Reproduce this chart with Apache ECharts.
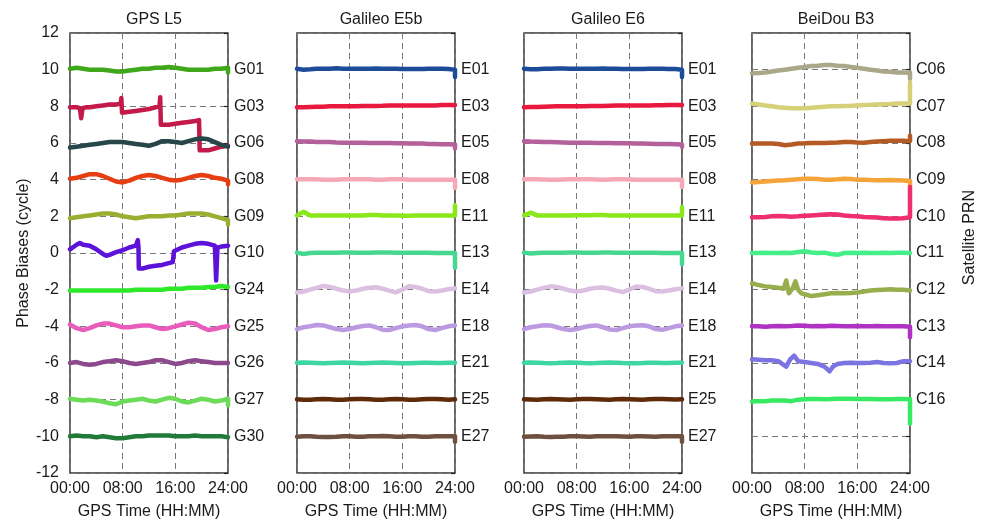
<!DOCTYPE html>
<html>
<head>
<meta charset="utf-8">
<script src="https://cdn.jsdelivr.net/npm/echarts@6/dist/echarts.min.js"></script>
<style>
  html, body { margin: 0; padding: 0; background: #fff; }
  #chart { width: 988px; height: 526px; }
</style>
</head>
<body>
<div id="chart"></div>
<script>
// Hourly epochs (GPS time, hours of day)
const HOURS = [0,1,2,3,4,5,6,7,8,9,10,11,12,13,14,15,16,17,18,19,20,21,22,23,24];
const X_TICKS = ['00:00', '08:00', '16:00', '24:00'];
const LEVELS = [10, 8, 6, 4, 2, 0, -2, -4, -6, -8, -10];

const PANEL_TITLES = ['GPS L5', 'Galileo E5b', 'Galileo E6', 'BeiDou B3'];

// ---------- GPS L5 ----------
const GPS_PRN = ['G01','G03','G06','G08','G09','G10','G24','G25','G26','G27','G30'];
const GPS_COLORS = ['#3fa81a','#c41a4a','#27464a','#e63e10','#9cae32','#5c12d8','#2ee82a','#ea5cbc','#8c4a8c','#6cdc58','#227a38'];
const G01 = [10.05,10.1,10.05,10.0,10.0,10.0,9.95,9.9,9.9,9.95,10.0,10.05,10.05,10.1,10.1,10.15,10.1,10.05,10.0,10.0,10.0,10.0,10.05,10.05,10.1];
const G03 = [[0,7.95],[1,7.95],[1.5,7.9],[1.7,7.35],[1.9,7.9],[2.5,7.95],[3,7.95],[4,8.0],[5,8.05],[6,8.1],[7,8.1],[7.7,8.15],[7.8,8.45],[7.9,7.65],[9,7.7],[10,7.75],[11,7.8],[12,7.85],[13,7.95],[13.6,8.0],[13.7,8.5],[13.8,7.0],[14,6.95],[15,7.0],[16,7.05],[17,7.1],[18,7.15],[19,7.2],[19.6,7.25],[19.7,5.6],[20,5.55],[21,5.6],[22,5.7],[23,5.8],[24,5.85]];
const G06 = [5.75,5.8,5.85,5.9,5.95,6.0,6.05,6.05,6.05,6.0,5.95,5.9,5.85,5.95,6.1,6.1,6.05,6.0,6.1,6.2,6.25,6.2,6.05,5.9,5.8];
const G08 = [4.05,4.1,4.2,4.3,4.3,4.2,4.05,3.9,3.85,3.95,4.1,4.2,4.25,4.2,4.1,4.0,3.95,4.0,4.1,4.2,4.25,4.2,4.1,4.05,3.95];
const G09 = [1.9,1.95,2.0,2.05,2.1,2.15,2.15,2.1,2.0,1.95,1.9,1.95,2.0,2.0,2.0,2.05,2.05,2.1,2.15,2.15,2.15,2.1,2.0,1.9,1.8];
const G10 = [[0,0.2],[1,0.45],[1.5,0.55],[2,0.45],[3,0.4],[4,0.2],[5,-0.05],[5.5,-0.15],[6,-0.1],[7,0.05],[8,0.15],[9,0.3],[10,0.4],[10.3,0.7],[10.4,0.3],[10.45,-0.85],[11,-0.85],[12,-0.75],[13,-0.7],[14,-0.65],[15,-0.55],[15.6,-0.5],[15.8,0.1],[16,0.15],[17,0.3],[18,0.4],[19,0.5],[20,0.55],[21,0.5],[22,0.4],[22.2,-1.5],[22.4,0.3],[23,0.35],[24,0.4]];
const G24 = [-2.05,-2.05,-2.05,-2.05,-2.05,-2.05,-2.05,-2.05,-2.05,-2.05,-2.0,-2.0,-2.0,-2.0,-2.0,-1.95,-1.95,-1.95,-1.9,-1.9,-1.9,-1.85,-1.85,-1.8,-1.85];
const G25 = [-3.9,-4.1,-4.2,-4.1,-3.95,-3.85,-3.85,-3.95,-4.05,-4.05,-4.0,-3.95,-3.95,-4.05,-4.15,-4.1,-4.0,-3.9,-3.8,-3.85,-4.05,-4.2,-4.15,-4.05,-4.0];
const G26 = [-6.0,-5.95,-6.05,-6.1,-6.05,-5.95,-5.9,-5.85,-5.9,-6.0,-6.05,-6.0,-5.95,-5.85,-5.85,-5.95,-6.05,-6.0,-5.9,-5.85,-5.9,-5.95,-6.0,-6.0,-6.0];
const G27 = [-7.95,-8.0,-8.05,-8.0,-8.05,-8.1,-8.2,-8.25,-8.1,-8.05,-8.0,-7.95,-8.05,-8.1,-8.0,-7.9,-7.95,-8.1,-8.15,-8.05,-7.95,-8.0,-8.1,-8.05,-7.95];
const G30 = [-10.0,-9.95,-10.0,-10.0,-10.05,-10.0,-10.05,-10.1,-10.1,-10.05,-10.0,-10.0,-9.95,-9.95,-9.95,-9.95,-10.0,-10.0,-10.0,-9.95,-10.0,-10.0,-10.0,-10.0,-10.05];
const GPS_SERIES = [G01,G03,G06,G08,G09,G10,G24,G25,G26,G27,G30];
const GPS_LAST = [9.85,null,null,3.75,1.55,null,null,null,null,-8.3,null];

// ---------- Galileo E5b ----------
const GAL_PRN = ['E01','E03','E05','E08','E11','E13','E14','E18','E21','E25','E27'];
const GAL_COLORS = ['#1c4c98','#e8183e','#b4609a','#f6a8b6','#8ae81a','#46d890','#dcc0e2','#bc9ae2','#3ed6a2','#5e2a08','#6e5040'];
const E01_B = [10.05,10.0,10.02,10.05,10.05,10.05,10.08,10.05,10.05,10.05,10.05,10.05,10.07,10.05,10.05,10.05,10.03,10.03,10.03,10.03,10.05,10.05,10.05,10.03,10.0];
const E03_B = [7.95,7.95,7.97,7.98,7.98,8.0,8.0,8.0,8.0,8.0,8.02,8.02,8.02,8.03,8.05,8.05,8.05,8.05,8.05,8.05,8.05,8.05,8.07,8.07,8.07];
const E05_B = [6.1,6.08,6.08,6.05,6.05,6.05,6.03,6.02,6.02,6.02,6.02,6.0,6.0,6.0,6.0,5.98,5.98,5.97,5.97,5.97,5.95,5.95,5.93,5.93,5.92];
const E08_B = [4.02,4.02,4.02,4.02,4.0,4.0,4.0,4.02,4.02,4.02,4.02,4.02,4.0,4.0,4.02,4.02,4.02,4.0,4.0,4.0,4.0,4.0,4.0,4.0,4.0];
const E11_B = [2.05,2.25,2.05,2.05,2.05,2.05,2.05,2.05,2.05,2.05,2.05,2.07,2.07,2.05,2.05,2.05,2.03,2.03,2.05,2.05,2.05,2.05,2.05,2.05,2.05];
const E13_B = [0.02,-0.05,0.0,0.02,0.02,0.02,0.02,0.03,0.03,0.02,0.02,0.02,0.03,0.03,0.03,0.02,0.02,0.02,0.02,0.02,0.02,0.0,0.0,0.0,0.0];
const E14_B = [-2.15,-2.1,-2.0,-1.9,-1.8,-1.85,-1.95,-2.05,-2.1,-2.05,-1.95,-1.9,-1.87,-1.95,-2.05,-2.15,-2.0,-1.82,-1.85,-1.95,-2.08,-2.1,-2.05,-1.98,-1.93];
const E18_B = [-4.15,-4.05,-4.0,-3.93,-3.95,-4.05,-4.15,-4.2,-4.15,-4.05,-3.98,-3.95,-4.05,-4.18,-4.2,-4.1,-4.0,-3.95,-3.93,-4.0,-4.15,-4.2,-4.1,-4.0,-3.95];
const E21_B = [-5.98,-5.97,-5.98,-6.0,-6.02,-6.0,-5.98,-5.97,-5.98,-6.0,-6.02,-6.0,-5.98,-5.97,-5.98,-6.0,-6.02,-6.02,-6.0,-5.98,-5.98,-6.0,-6.0,-5.98,-5.98];
const E25_B = [-7.98,-8.0,-8.0,-7.98,-7.97,-7.98,-8.0,-8.0,-7.98,-7.97,-7.97,-7.98,-8.0,-8.0,-7.98,-7.97,-7.98,-8.0,-8.0,-7.98,-7.97,-7.97,-7.98,-8.0,-7.98];
const E27_B = [-10.02,-10.0,-10.0,-10.02,-10.03,-10.03,-10.02,-10.0,-10.0,-10.02,-10.02,-10.0,-10.0,-9.98,-10.0,-10.02,-10.02,-10.0,-10.0,-10.02,-10.02,-10.0,-10.0,-10.0,-10.0];
const E5B_SERIES = [E01_B,E03_B,E05_B,E08_B,E11_B,E13_B,E14_B,E18_B,E21_B,E25_B,E27_B];
const E5B_LAST = [9.6,null,5.7,3.55,2.6,-0.8,null,null,null,null,-10.3];

// ---------- Galileo E6 ----------
const E01_6 = [10.05,10.02,10.02,10.05,10.05,10.07,10.07,10.05,10.05,10.05,10.05,10.05,10.07,10.05,10.05,10.03,10.03,10.03,10.03,10.05,10.05,10.05,10.03,10.03,10.0];
const E03_6 = [7.95,7.96,7.97,7.98,7.99,8.0,8.0,8.0,8.0,8.01,8.02,8.02,8.02,8.03,8.04,8.05,8.05,8.05,8.05,8.05,8.06,8.06,8.07,8.07,8.07];
const E05_6 = [6.1,6.08,6.07,6.05,6.05,6.04,6.03,6.02,6.02,6.02,6.01,6.0,6.0,6.0,5.99,5.98,5.98,5.97,5.97,5.96,5.95,5.95,5.94,5.93,5.92];
const E08_6 = [4.02,4.02,4.02,4.01,4.0,4.0,4.01,4.02,4.02,4.02,4.02,4.01,4.0,4.01,4.02,4.02,4.01,4.0,4.0,4.0,4.0,4.0,4.0,4.0,4.0];
const E11_6 = [2.05,2.2,2.05,2.05,2.05,2.05,2.05,2.05,2.06,2.06,2.06,2.07,2.07,2.05,2.05,2.05,2.04,2.04,2.05,2.05,2.05,2.05,2.05,2.05,2.05];
const E13_6 = [0.02,-0.03,0.0,0.02,0.02,0.02,0.02,0.03,0.03,0.02,0.02,0.02,0.03,0.03,0.02,0.02,0.02,0.02,0.02,0.02,0.01,0.0,0.0,0.0,0.0];
const E14_6 = [-2.15,-2.1,-2.0,-1.9,-1.82,-1.85,-1.95,-2.05,-2.1,-2.05,-1.95,-1.9,-1.88,-1.95,-2.05,-2.13,-2.0,-1.83,-1.85,-1.95,-2.08,-2.1,-2.05,-1.98,-1.93];
const E18_6 = [-4.15,-4.05,-4.0,-3.94,-3.95,-4.05,-4.15,-4.2,-4.15,-4.05,-3.98,-3.95,-4.05,-4.17,-4.2,-4.1,-4.0,-3.95,-3.94,-4.0,-4.15,-4.19,-4.1,-4.0,-3.95];
const E21_6 = [-5.98,-5.97,-5.98,-6.0,-6.01,-6.0,-5.98,-5.97,-5.98,-6.0,-6.01,-6.0,-5.98,-5.97,-5.98,-6.0,-6.01,-6.01,-6.0,-5.98,-5.98,-6.0,-6.0,-5.99,-5.98];
const E25_6 = [-7.98,-7.99,-8.0,-7.98,-7.97,-7.98,-7.99,-8.0,-7.98,-7.97,-7.97,-7.98,-7.99,-8.0,-7.98,-7.97,-7.98,-7.99,-8.0,-7.98,-7.97,-7.97,-7.98,-7.99,-7.98];
const E27_6 = [-10.02,-10.01,-10.0,-10.02,-10.03,-10.02,-10.02,-10.0,-10.0,-10.01,-10.02,-10.0,-10.0,-9.99,-10.0,-10.01,-10.02,-10.0,-10.0,-10.01,-10.02,-10.0,-10.0,-10.0,-10.0];
const E6_SERIES = [E01_6,E03_6,E05_6,E08_6,E11_6,E13_6,E14_6,E18_6,E21_6,E25_6,E27_6];
const E6_LAST = [9.6,null,5.8,3.6,2.5,-0.6,null,null,null,null,-10.3];

// ---------- BeiDou B3 ----------
const BDS_PRN = ['C06','C07','C08','C09','C10','C11','C12','C13','C14','C16'];
const BDS_COLORS = ['#aaa888','#d6d078','#b45a24','#f4a438','#ee2e6e','#44ee88','#98ae4c','#b032c4','#7c74e0','#38ea62'];
const C06 = [9.8,9.82,9.85,9.9,9.95,10.0,10.05,10.1,10.15,10.2,10.22,10.25,10.25,10.22,10.2,10.15,10.1,10.05,10.0,9.95,9.9,9.88,9.85,9.85,9.83];
const C07 = [8.15,8.1,8.05,8.0,7.95,7.92,7.9,7.9,7.9,7.92,7.95,7.98,8.0,8.0,8.02,8.03,8.05,8.07,8.08,8.1,8.12,8.13,8.15,8.15,8.17];
const C08 = [5.97,5.97,5.97,5.97,5.95,5.88,5.92,5.97,5.98,6.0,6.0,6.0,6.02,6.03,6.05,6.05,6.03,6.02,6.05,6.08,6.1,6.12,6.12,6.12,6.1];
const C09 = [3.85,3.87,3.9,3.93,3.95,3.97,4.0,4.02,4.05,4.05,4.03,4.0,4.0,4.02,4.05,4.03,4.0,4.0,3.98,3.97,3.97,3.98,3.97,3.95,3.93];
const C10 = [1.95,1.95,1.97,2.0,2.02,2.0,1.98,2.0,2.03,2.05,2.07,2.1,2.12,2.1,2.05,2.02,2.0,1.97,1.95,1.93,1.9,1.88,1.88,1.9,1.95];
const C11 = [0.0,0.0,0.02,0.0,0.0,0.02,0.0,0.05,0.1,0.03,0.0,0.02,-0.05,-0.1,0.0,0.02,0.0,0.02,0.0,0.0,0.02,0.0,0.02,0.02,0.0];
const C12 = [[0,-1.65],[1,-1.75],[2,-1.82],[3,-1.86],[4,-1.9],[4.8,-1.95],[5.2,-1.5],[5.6,-2.2],[6.2,-1.9],[6.6,-1.55],[7.0,-2.0],[7.5,-2.2],[8,-2.25],[9,-2.35],[10,-2.3],[11,-2.25],[12,-2.2],[13,-2.18],[14,-2.2],[15,-2.18],[16,-2.15],[17,-2.1],[18,-2.05],[19,-2.02],[20,-2.0],[21,-1.98],[22,-2.0],[23,-2.0],[24,-2.05]];
const C13 = [-4.0,-4.0,-4.02,-4.0,-3.98,-4.0,-3.98,-3.95,-3.97,-4.0,-3.98,-4.0,-3.97,-3.98,-4.0,-4.0,-3.98,-4.0,-4.0,-3.98,-4.0,-4.0,-4.0,-4.0,-4.02];
const C14 = [[0,-5.8],[1,-5.82],[2,-5.85],[3,-5.85],[4,-5.9],[4.8,-6.1],[5.2,-6.2],[5.8,-5.8],[6.4,-5.6],[7,-5.9],[8,-5.95],[9,-6.0],[10,-6.05],[11,-6.2],[11.8,-6.45],[12.3,-6.2],[13,-6.05],[14,-6.0],[15,-5.98],[16,-6.0],[17,-6.0],[18,-5.98],[19,-5.95],[20,-6.0],[21,-6.02],[22,-6.0],[23,-5.9],[24,-5.9]];
const C16 = [-8.1,-8.08,-8.08,-8.05,-8.05,-8.05,-8.08,-8.0,-7.98,-7.97,-7.97,-7.98,-7.97,-7.95,-7.95,-7.95,-7.97,-7.97,-7.97,-7.98,-7.98,-7.98,-7.97,-7.97,-7.98];
const BDS_SERIES = [C06,C07,C08,C09,C10,C11,C12,C13,C14,C16];
const BDS_LAST = [9.5,9.3,6.4,3.6,3.6,null,null,-4.6,null,-9.3];

const FONT = 'Liberation Sans, Arial, sans-serif';
const GRID_LEFT = [70, 297, 524, 752];
const GRID_W = 158, GRID_TOP = 33, GRID_H = 440;

const panels = [
  { prn: GPS_PRN, colors: GPS_COLORS, series: GPS_SERIES, last: GPS_LAST },
  { prn: GAL_PRN, colors: GAL_COLORS, series: E5B_SERIES, last: E5B_LAST },
  { prn: GAL_PRN, colors: GAL_COLORS, series: E6_SERIES, last: E6_LAST },
  { prn: BDS_PRN, colors: BDS_COLORS, series: BDS_SERIES, last: BDS_LAST }
];

function toPairs(vals) {
  return typeof vals[0] === 'number' ? HOURS.map((h, i) => [h, vals[i]]) : vals.slice();
}

const grid = [], xAxis = [], yAxis = [], series = [], title = [];
panels.forEach((p, k) => {
  grid.push({ left: GRID_LEFT[k], top: GRID_TOP, width: GRID_W, height: GRID_H,
    show: true, borderColor: '#333', borderWidth: 1.5, backgroundColor: 'transparent' });
  title.push({ text: PANEL_TITLES[k], left: GRID_LEFT[k] + GRID_W / 2, top: 7, textAlign: 'center',
    textStyle: { fontFamily: FONT, fontSize: 16, fontWeight: 'normal', color: '#1a1a1a' } });
  xAxis.push({
    type: 'value', gridIndex: k, min: 0, max: 24, interval: 8,
    name: 'GPS Time (HH:MM)', nameLocation: 'middle', nameGap: 31,
    nameTextStyle: { fontFamily: FONT, fontSize: 16, color: '#1a1a1a' },
    axisLine: { show: false }, axisTick: { show: false },
    axisLabel: { fontFamily: FONT, fontSize: 16, color: '#1a1a1a', margin: 8,
      formatter: v => X_TICKS[v / 8] },
    splitLine: { show: true, lineStyle: { color: '#7a7a7a', type: [6, 4], width: 1 } }
  });
  // left value axis (labels only on the first panel)
  yAxis.push({
    type: 'value', gridIndex: k, min: -12, max: 12, interval: 2, position: 'left',
    name: k === 0 ? 'Phase Biases (cycle)' : '', nameLocation: 'middle', nameGap: 38,
    nameTextStyle: { fontFamily: FONT, fontSize: 16, color: '#1a1a1a' },
    axisLine: { show: false }, axisTick: { show: false },
    axisLabel: { show: k === 0, fontFamily: FONT, fontSize: 16, color: '#1a1a1a', margin: 11 },
    splitLine: { show: true, lineStyle: { color: '#7a7a7a', type: [6, 4], width: 1 } }
  });
  // right axis carrying satellite PRN labels
  yAxis.push({
    type: 'value', gridIndex: k, min: -12, max: 12, interval: 2, position: 'right',
    axisLine: { show: false },
    axisTick: { show: true, inside: true, length: 4, lineStyle: { color: '#222', width: 1.2 } },
    axisLabel: { fontFamily: FONT, fontSize: 16, color: '#1a1a1a', margin: 6,
      formatter: v => { const i = LEVELS.indexOf(v); return i >= 0 && i < p.prn.length ? p.prn[i] : ''; } },
    splitLine: { show: false }
  });
  p.series.forEach((vals, i) => {
    const data = toPairs(vals);
    if (p.last[i] !== null) data.push([24, p.last[i]]);
    series.push({
      type: 'line', name: p.prn[i], xAxisIndex: k, yAxisIndex: 2 * k,
      data, showSymbol: false, silent: true, animation: false,
      lineStyle: { color: p.colors[i], width: 4.5, cap: 'round', join: 'round' }
    });
  });
});

const chart = echarts.init(document.getElementById('chart'), null, { renderer: 'canvas' });
chart.setOption({
  backgroundColor: '#ffffff',
  animation: false,
  title, grid, xAxis, yAxis, series,
  graphic: [{
    type: 'text', left: 962, top: 190, rotation: Math.PI / 2,
    style: { text: 'Satellite PRN', font: '16px ' + FONT, fill: '#1a1a1a' }
  }]
});
</script>
</body>
</html>
